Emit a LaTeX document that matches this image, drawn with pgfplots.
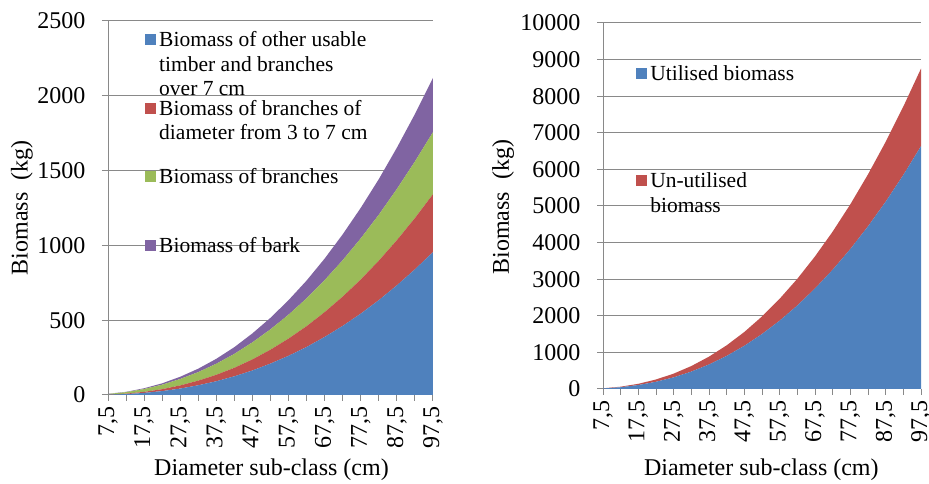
\documentclass[border=0pt]{standalone}
\usepackage{fontspec}
\setmainfont{Liberation Serif}
\usepackage{pgfplots}
\pgfplotsset{compat=1.18}

\definecolor{cblue}{HTML}{4F81BD}
\definecolor{cred}{HTML}{C0504D}
\definecolor{cgreen}{HTML}{9BBB59}
\definecolor{cpurple}{HTML}{8064A2}
\definecolor{cgrid}{HTML}{898989}

\pgfplotsset{
  biomass/.style={
    scale only axis,
    anchor=south west,
    axis x line*=bottom, axis y line*=left,
    axis line style={cgrid, line width=1pt},
    tick align=outside, tick pos=left,
    major tick length=6pt, minor tick length=6pt,
    every tick/.style={cgrid, line width=1pt},
    ymajorgrids, major grid style={cgrid, line width=1pt},
    xmin=7.5, xmax=97.5, ymin=0,
    scaled y ticks=false,
    xtick={7.5,17.5,...,97.5},
    xticklabels={{7,5},{17,5},{27,5},{37,5},{47,5},{57,5},{67,5},{77,5},{87,5},{97,5}},
    minor xtick={12.5,22.5,...,92.5},
    tick label style={font=\fontsize{24}{28}\selectfont},
    label style={font=\fontsize{24}{28}\selectfont},
    xticklabel style={rotate=90, anchor=east, xshift=-2pt},
    yticklabel style={xshift=-13pt},
    /pgf/number format/assume math mode=true,
    /pgf/number format/1000 sep={},
    xlabel={Diameter sub-class (cm)},
    ylabel={Biomass\ \ (kg)},
    stack plots=y,
    legend style={draw=none, fill=none, inner sep=0pt, row sep=0pt, column sep=1pt,
      font=\fontsize{21.5}{24.5}\selectfont,
      cells={anchor=base west, inner sep=0pt}},
  },
}

\begin{document}
\begin{tikzpicture}
\useasboundingbox (0,0) rectangle (929pt,484pt);

\begin{axis}[biomass,
  at={(108pt,89pt)}, width=325pt, height=374pt,
  ymax=2500, ytick={0,500,...,2500},
  xlabel style={at={(axis description cs:0.503,-0.2005)}, anchor=center},
  ylabel style={at={(axis description cs:-0.265,0.5)}, anchor=center},
  legend style={at={(0.114,0.978)}, anchor=north west},
  legend image code/.code={\fill[#1] (0pt,1.5pt) rectangle (11pt,12.5pt);
    \path[draw=none, fill=none] (0pt,-51.5pt) -- (0pt,0pt);},
]
\addplot[fill=cblue, draw=none] coordinates {
 (7.5,2) (12.5,6) (17.5,14) (22.5,26) (27.5,43) (32.5,65) (37.5,92) (42.5,125)
 (47.5,164) (52.5,210) (57.5,262) (62.5,321) (67.5,388) (72.5,462) (77.5,544)
 (82.5,634) (87.5,733) (92.5,840) (97.5,955)} \closedcycle;
\addplot[fill=cred, draw=none] coordinates {
 (7.5,1) (12.5,3) (17.5,7) (22.5,13) (27.5,21) (32.5,31) (37.5,43) (42.5,57)
 (47.5,74) (52.5,93) (57.5,115) (62.5,139) (67.5,166) (72.5,196) (77.5,228)
 (82.5,264) (87.5,302) (92.5,343) (97.5,387)} \closedcycle;
\addplot[fill=cgreen, draw=none] coordinates {
 (7.5,4) (12.5,10) (17.5,19) (22.5,30) (27.5,43) (32.5,57) (37.5,74) (42.5,93)
 (47.5,114) (52.5,136) (57.5,160) (62.5,186) (67.5,214) (72.5,243) (77.5,275)
 (82.5,307) (87.5,342) (92.5,378) (97.5,415)} \closedcycle;
\addplot[fill=cpurple, draw=none] coordinates {
 (7.5,1) (12.5,2) (17.5,5) (22.5,9) (27.5,15) (32.5,23) (37.5,33) (42.5,45)
 (47.5,60) (52.5,77) (57.5,97) (62.5,119) (67.5,144) (72.5,173) (77.5,204)
 (82.5,238) (87.5,276) (92.5,317) (97.5,362)} \closedcycle;
\legend{
 \parbox[t]{220pt}{Biomass of other usable\\timber and branches\\over 7 cm},
 \parbox[t]{220pt}{Biomass of branches of\\diameter from 3 to 7 cm},
 \parbox[t]{220pt}{Biomass of branches},
 \parbox[t]{220pt}{Biomass of bark}}
\end{axis}

\begin{axis}[biomass,
  at={(603pt,95pt)}, width=318pt, height=366pt,
  ymax=10000, ytick={0,1000,...,10000},
  xlabel style={at={(axis description cs:0.498,-0.221)}, anchor=center},
  ylabel style={at={(axis description cs:-0.314,0.497)}, anchor=center},
  legend style={at={(0.104,0.89)}, anchor=north west},
  legend image code/.code={\fill[#1] (0pt,1.5pt) rectangle (11pt,12.5pt);
    \path[draw=none, fill=none] (0pt,-90.5pt) -- (0pt,0pt);},
]
\addplot[fill=cblue, draw=none] coordinates {
 (7.5,14) (12.5,48) (17.5,108) (22.5,197) (27.5,318) (32.5,475) (37.5,670) (42.5,904)
 (47.5,1181) (52.5,1502) (57.5,1868) (62.5,2282) (67.5,2746) (72.5,3259) (77.5,3824)
 (82.5,4444) (87.5,5118) (92.5,5848) (97.5,6635)} \closedcycle;
\addplot[fill=cred, draw=none] coordinates {
 (7.5,5) (12.5,15) (17.5,34) (22.5,63) (27.5,102) (32.5,152) (37.5,214) (42.5,289)
 (47.5,377) (52.5,480) (57.5,597) (62.5,729) (67.5,877) (72.5,1041) (77.5,1222)
 (82.5,1420) (87.5,1635) (92.5,1869) (97.5,2120)} \closedcycle;
\legend{
 \parbox[t]{150pt}{Utilised biomass},
 \parbox[t]{150pt}{Un-utilised\\biomass}}
\end{axis}
\end{tikzpicture}
\end{document}
